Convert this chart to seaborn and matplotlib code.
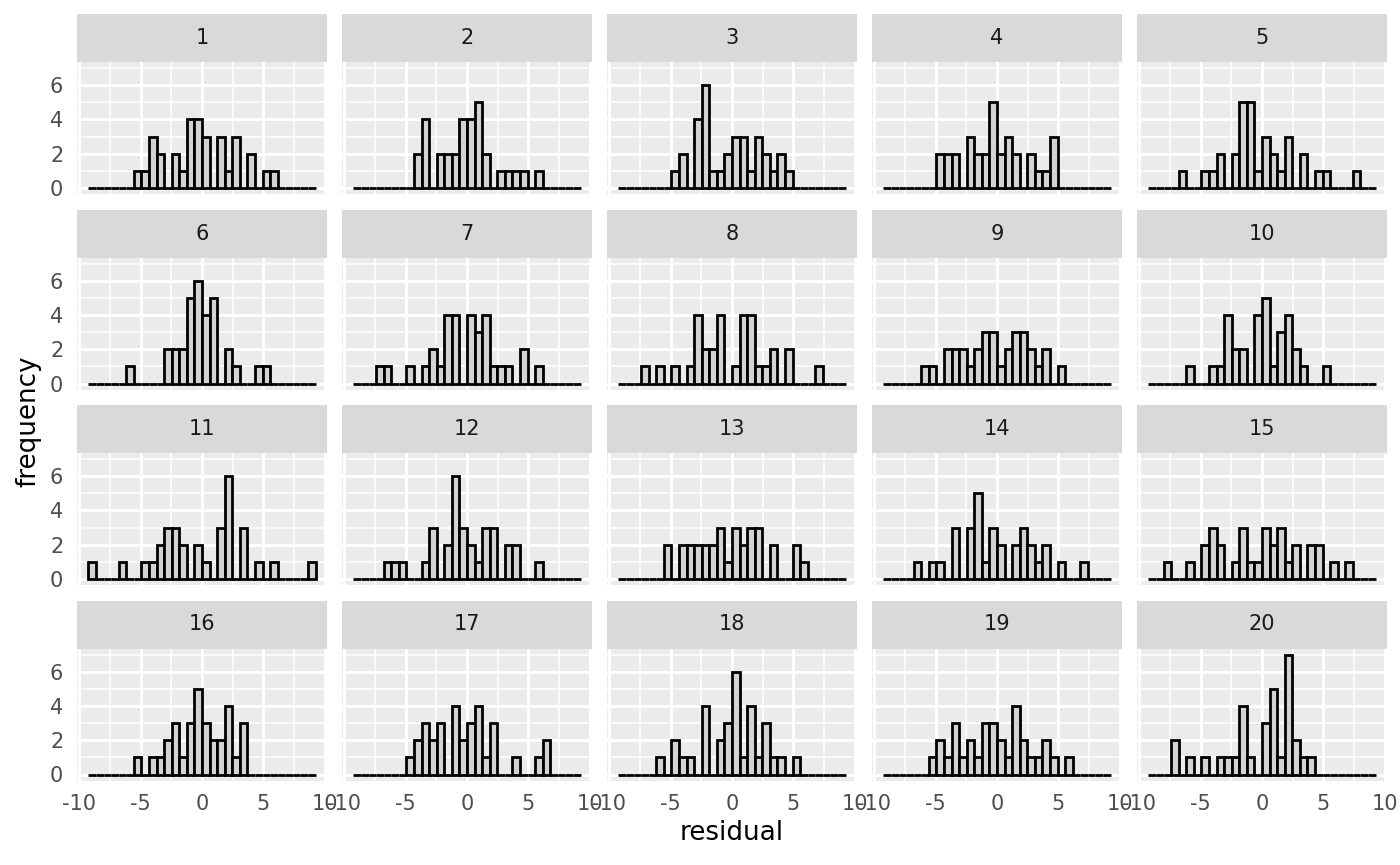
import numpy as np
import pandas as pd
import matplotlib
matplotlib.use("Agg")
import matplotlib.pyplot as plt
import seaborn as sns

# - counts per bin (30 shared bins, left to right) - #
counts_1 = [0,0,0,0,0,0, 1,1,3,2,0, 2,1,4,4,3, 0,3,1,3,0, 2,0,1,1,0, 0,0,0,0]
counts_2 = [0,0,0,0,0,0,0,0, 2,4,0,2,2,2,4,4,5,2,0,1,1,1,1,0,1, 0,0,0,0,0]
counts_3 = [0,0,0,0,0,0,0, 1,2,0,4,6,1,1,2,3,3,1,3,2,1,2,1, 0,0,0,0,0,0,0]
counts_4 = [0,0,0,0,0,0,0, 2,2,2,0,3,2,2,5,2,3,2,0,2,1,1,3, 0,0,0,0,0,0,0]
counts_5 = [0,0,0,0, 1,0,0,1,1,2,0,2,5,5,1,3,2,1,3,0,2,0,1,1,0,0,0,1, 0,0]
counts_6 = [0,0,0,0,0, 1,0,0,0,0, 2,2,2,5,6, 4,5,0,2,1, 0,0,1,1,0, 0,0,0,0,0]
counts_7 = [0,0,0, 1,1,0,0,1, 0,1,2,1,4, 4,0,4,3,4, 1,1,1,0,2, 0,1,0,0,0, 0,0]
counts_8 = [0,0,0,1,0, 1,0,1,0,1, 4,2,2,4,0, 1,4,4,1,1, 2,0,2,0,0, 0,1,0,0,0]
counts_9 = [0,0,0,0,0, 1,1,0,2,2, 2,1,2,3,3, 1,2,3,3,2, 1,2,0,1,0, 0,0,0,0,0]
counts_10 = [0,0,0,0,0, 1,0,0,1,1, 4,2,2,0,4, 5,1,3,4,2, 1,0,0,1,0, 0,0,0,0,0]
counts_11 = [1,0,0,0,1, 0,0,1,1,2, 3,3,2,0,2, 1,0,3,6,0, 3,0,1,0,1, 0,0,0,0,1]
counts_12 = [0,0,0,0,1, 1,1,0,0,1, 3,0,2,6,3, 2,1,3,3,0, 2,2,0,0,1, 0,0,0,0,0]
counts_13 = [0,0,0,0,0, 0,2,0,2,2, 2,2,2,3,1, 3,2,3,3,0, 2,0,0,2,1, 0,0,0,0,0]
counts_14 = [0,0,0,0,1, 0,1,1,0,3, 0,3,5,1,3, 2,0,2,3,2, 1,2,0,1,0, 0,1,0,0,0]
counts_15 = [0,0,1,0,0, 1,0,2,3,2, 0,1,3,1,1, 3,2,3,1,2, 0,2,2,0,1, 0,1,0,0,0]
counts_16 = [0,0,0,0,0, 0,1,0,1,1, 2,3,1,3,5, 3,2,2,4,1, 3,0,0,0,0, 0,0,0,0,0]
counts_17 = [0,0,0,0,0, 0,0,1,2,3, 2,3,0,4,2, 3,4,1,3,0, 0,1,0,0,1, 2,0,0,0,0]
counts_18 = [0,0,0,0,0, 1,0,2,1,1, 0,4,0,2,3, 6,1,4,1,3, 1,1,0,1,0, 0,0,0,0,0]
counts_19 = [0,0,0,0,0, 0,1,2,1,3, 1,2,1,3,3, 2,1,4,2,1, 1,2,1,0,1, 0,0,0,0,0]
counts_20 = [0,0,0,2,0, 1,0,1,0,1, 1,1,4,1,0, 3,5,1,7,2, 1,1,0,0,0, 0,0,0,0,0]

panels = [str(i) for i in range(1, 21)]
all_counts = [counts_1, counts_2, counts_3, counts_4, counts_5,
              counts_6, counts_7, counts_8, counts_9, counts_10,
              counts_11, counts_12, counts_13, counts_14, counts_15,
              counts_16, counts_17, counts_18, counts_19, counts_20]

# shared bins of the histogram
bin_lo, bin_hi, n_bins = -9.25, 9.25, 30
edges = np.linspace(bin_lo, bin_hi, n_bins + 1)
centers = (edges[:-1] + edges[1:]) / 2

df = pd.concat([pd.DataFrame({'panel': p, 'residual': centers, 'count': c})
                for p, c in zip(panels, all_counts)], ignore_index=True)

sns.set_theme(style='white')
plt.rcParams['font.family'] = ['DejaVu Sans']
plt.rcParams['axes.unicode_minus'] = False

W, H = 1400, 865
fig = plt.figure(figsize=(7, 4.325), dpi=200)

def box(x, y, w, h):
    # pixel box (from top left) -> figure fraction
    return [x / W, 1 - (y + h) / H, w / W, h / H]

tick_size = 7.5
for i, name in enumerate(panels):
    r, c = divmod(i, 5)
    px = 77 + 265 * c
    py = 62 + 195.5 * r
    ax = fig.add_axes(box(px, py, 250, 132))
    sns.histplot(data=df[df['panel'] == name], x='residual', weights='count', bins=edges.tolist(),
                 color='#D3D3D3', edgecolor='black', linewidth=1.0, alpha=1, ax=ax)
    ax.set_facecolor('#EBEBEB')
    for s in ax.spines.values():
        s.set_visible(False)
    ax.set_xlim(-10.175, 10.175)
    ax.set_ylim(-0.35, 7.35)
    ax.set_xticks([-10, -5, 0, 5, 10])
    ax.set_xticks([-7.5, -2.5, 2.5, 7.5], minor=True)
    ax.set_yticks([0, 2, 4, 6])
    ax.set_yticks([1, 3, 5, 7], minor=True)
    ax.set_axisbelow(True)
    ax.grid(which='major', color='white', linewidth=1.1)
    ax.grid(which='minor', color='white', linewidth=0.55)
    ax.tick_params(which='minor', length=0)
    ax.tick_params(which='major', length=2.75, width=0.8, color='#333333',
                   labelsize=tick_size, labelcolor='#4D4D4D', pad=2.2)
    ax.set_xlabel('')
    ax.set_ylabel('')
    if r < 3:
        ax.tick_params(axis='x', which='major', length=0, labelbottom=False)
    if c > 0:
        ax.tick_params(axis='y', which='major', length=0, labelleft=False)

    # facet strip
    st = fig.add_axes(box(px, py - 48, 250, 48))
    st.set_facecolor('#D9D9D9')
    st.set_xticks([])
    st.set_yticks([])
    for s in st.spines.values():
        s.set_visible(False)
    st.text(0.5, 0.5, name, ha='center', va='center', fontsize=tick_size, color='#1A1A1A')

fig.text(732 / W, 1 - 833 / H, 'residual', ha='center', va='center', fontsize=9.4, color='black')
fig.text(28 / W, 1 - 421 / H, 'frequency', ha='center', va='center', rotation=90,
         fontsize=9.4, color='black')

fig.savefig('out.png', dpi=200, facecolor='white')
